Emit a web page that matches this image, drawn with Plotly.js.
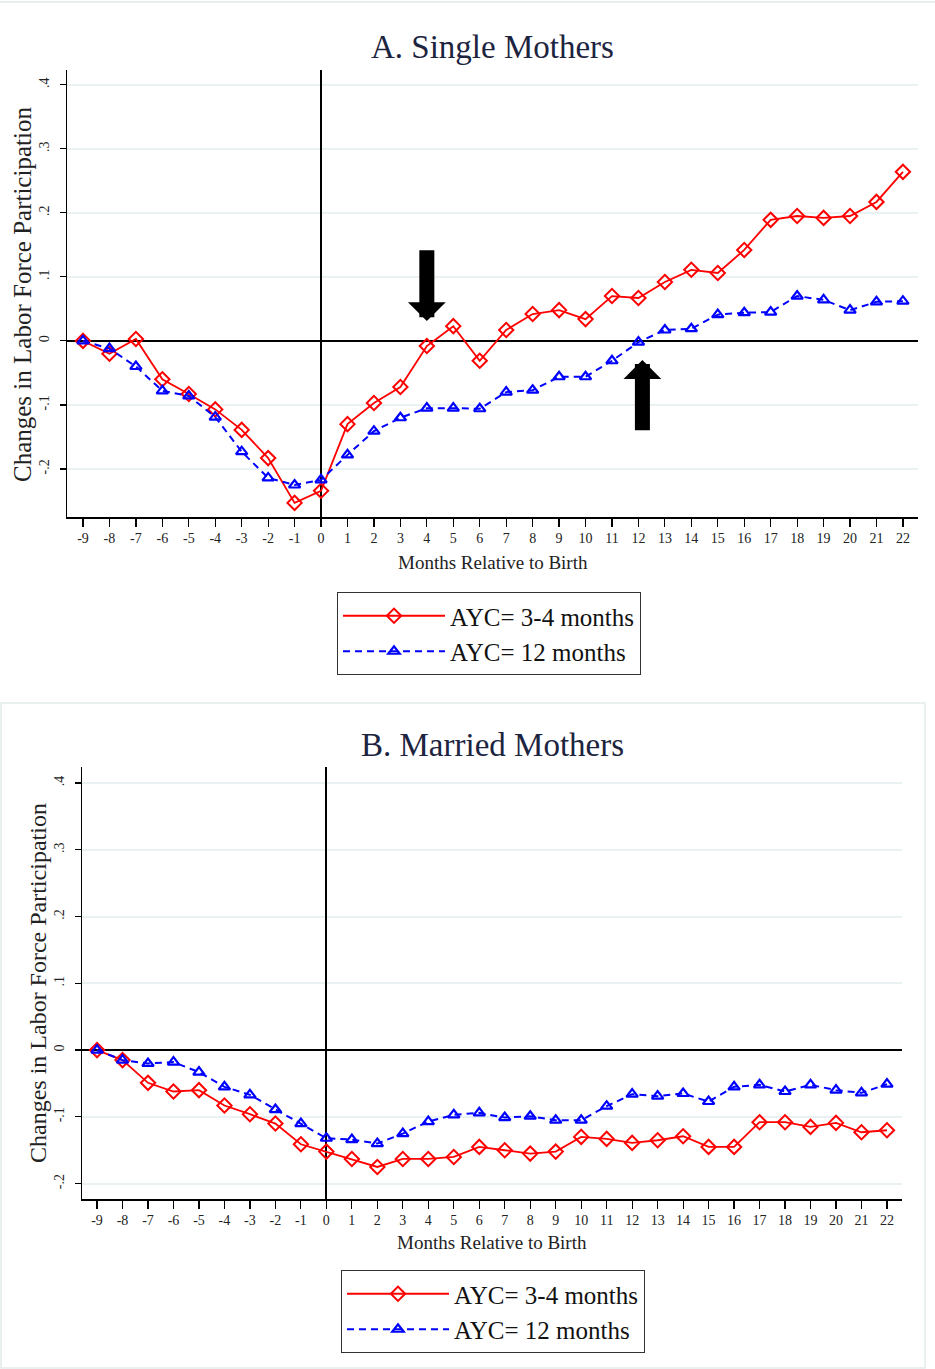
<!DOCTYPE html>
<html>
<head>
<meta charset="utf-8">
<script src="https://cdn.plot.ly/plotly-3.0.1.min.js"></script>
<style>html,body{margin:0;padding:0;background:#fff;}#chart{width:935px;height:1369px;}</style>
</head>
<body>
<div id="chart"></div>
<script>
var months = [-9,-8,-7,-6,-5,-4,-3,-2,-1,0,1,2,3,4,5,6,7,8,9,10,11,12,13,14,15,16,17,18,19,20,21,22];

var singleAYC34 = [0,-0.020,0.003,-0.060,-0.083,-0.107,-0.139,-0.183,-0.253,-0.234,-0.130,-0.097,-0.072,-0.008,0.023,-0.031,0.017,0.042,0.048,0.034,0.070,0.067,0.092,0.111,0.106,0.142,0.189,0.195,0.192,0.195,0.217,0.264];
var singleAYC12 = [0,-0.012,-0.040,-0.078,-0.086,-0.119,-0.173,-0.214,-0.225,-0.217,-0.178,-0.141,-0.120,-0.105,-0.105,-0.106,-0.080,-0.077,-0.056,-0.056,-0.031,-0.002,0.017,0.019,0.041,0.044,0.045,0.070,0.064,0.048,0.061,0.062];

var marriedAYC34 = [0,-0.015,-0.049,-0.062,-0.060,-0.083,-0.096,-0.110,-0.141,-0.152,-0.163,-0.175,-0.163,-0.163,-0.160,-0.145,-0.150,-0.155,-0.152,-0.130,-0.133,-0.139,-0.135,-0.129,-0.145,-0.145,-0.108,-0.108,-0.115,-0.109,-0.123,-0.120];
var marriedAYC12 = [0,-0.015,-0.020,-0.018,-0.033,-0.055,-0.067,-0.089,-0.110,-0.132,-0.134,-0.140,-0.125,-0.107,-0.097,-0.094,-0.101,-0.099,-0.105,-0.105,-0.084,-0.066,-0.069,-0.065,-0.077,-0.055,-0.052,-0.062,-0.052,-0.060,-0.064,-0.051];

var yTickVals = [-0.2,-0.1,0,0.1,0.2,0.3,0.4];
var yTickText = ['-.2','-.1','0','.1','.2','.3','.4'];
var seriesNames = ['AYC= 3-4 months','AYC= 12 months'];

var serif = 'Liberation Serif, Times New Roman, serif';
var W = 935, H = 1369;
function px(x){return x/W;}
function py(y){return 1-y/H;}

var redLine = {color:'#ff0000', width:1.8, dash:'solid'};
var blueLine = {color:'#0000ff', width:2, dash:'7px,5px'};
var redMarker = {symbol:'diamond-open', size:11, color:'#ff0000', line:{width:2, color:'#ff0000'}};
var blueMarker = {symbol:'triangle-up-open', size:10, color:'#0000ff', line:{width:2.2, color:'#0000ff'}};

var data = [
  {x:months, y:singleAYC34, name:seriesNames[0], type:'scatter', mode:'lines+markers', line:redLine, marker:redMarker, xaxis:'x', yaxis:'y', legend:'legend'},
  {x:months, y:singleAYC12, name:seriesNames[1], type:'scatter', mode:'lines+markers', line:blueLine, marker:blueMarker, xaxis:'x', yaxis:'y', legend:'legend'},
  {x:months, y:marriedAYC34, name:seriesNames[0], type:'scatter', mode:'lines+markers', line:redLine, marker:redMarker, xaxis:'x2', yaxis:'y2', legend:'legend2'},
  {x:months, y:marriedAYC12, name:seriesNames[1], type:'scatter', mode:'lines+markers', line:blueLine, marker:blueMarker, xaxis:'x2', yaxis:'y2', legend:'legend2'}
];

function xAxis(domain, range, anchor){
  return {domain:domain, range:range, anchor:anchor, tickmode:'array', tickvals:months, ticktext:months.map(String),
    showgrid:false, zeroline:true, zerolinecolor:'#000', zerolinewidth:2,
    showline:true, linecolor:'#000', linewidth:1.5, ticks:'outside', ticklen:8, tickwidth:1.2, tickcolor:'#000',
    tickfont:{family:serif, size:14, color:'#222'}, fixedrange:true};
}
function yAxis(domain, range, anchor){
  return {domain:domain, range:range, anchor:anchor, tickmode:'array', tickvals:yTickVals, ticktext:yTickText,
    tickangle:-90, showgrid:true, gridcolor:'#eaf1f3', gridwidth:2,
    zeroline:true, zerolinecolor:'#000', zerolinewidth:2,
    showline:true, linecolor:'#000', linewidth:1.5, ticks:'outside', ticklen:6, tickwidth:1.2, tickcolor:'#000',
    ticklabelstandoff:5,
    tickfont:{family:serif, size:14, color:'#222'}, fixedrange:true};
}

var legendBase = {xanchor:'left', yanchor:'top', bordercolor:'#333', borderwidth:1, bgcolor:'#fff',
  font:{family:serif, size:25, color:'#111'}, itemwidth:102, tracegroupgap:0};

var layout = {
  width:W, height:H, margin:{l:0,r:0,t:0,b:0}, paper_bgcolor:'#fff', plot_bgcolor:'#fff',
  showlegend:true,
  xaxis: xAxis([px(67), px(918)], [-9.605, 22.57], 'y'),
  yaxis: yAxis([py(517), py(70)], [-0.275, 0.423], 'x'),
  xaxis2: xAxis([px(82), px(902)], [-9.59, 22.59], 'y2'),
  yaxis2: yAxis([py(1199), py(767)], [-0.223, 0.424], 'x2'),
  legend: Object.assign({x:px(337), y:py(592)}, legendBase),
  legend2: Object.assign({x:px(341), y:py(1270)}, legendBase),
  shapes: [
    {type:'line', xref:'paper', yref:'paper', x0:0, x1:1, y0:py(2), y1:py(2), line:{color:'#e6eeee', width:2}},
    {type:'rect', xref:'paper', yref:'paper', x0:px(1), x1:px(925), y0:py(1368), y1:py(703), line:{color:'#e3ebeb', width:1.5}, fillcolor:'rgba(0,0,0,0)', layer:'below'}
  ],
  annotations: [
    {text:'A. Single Mothers', xref:'paper', yref:'paper', x:px(493), y:py(47), xanchor:'center', yanchor:'middle', showarrow:false, font:{family:serif, size:33, color:'#1c2440'}},
    {text:'B. Married Mothers', xref:'paper', yref:'paper', x:px(492), y:py(745), xanchor:'center', yanchor:'middle', showarrow:false, font:{family:serif, size:33, color:'#1c2440'}},
    {text:'Months Relative to Birth', xref:'paper', yref:'paper', x:px(493), y:py(562), xanchor:'center', yanchor:'middle', showarrow:false, font:{family:serif, size:19, color:'#222'}},
    {text:'Months Relative to Birth', xref:'paper', yref:'paper', x:px(492), y:py(1242), xanchor:'center', yanchor:'middle', showarrow:false, font:{family:serif, size:19, color:'#222'}},
    {text:'Changes in Labor Force Participation', xref:'paper', yref:'paper', x:px(22), y:py(295), xanchor:'center', yanchor:'middle', textangle:-90, showarrow:false, font:{family:serif, size:25, color:'#222'}},
    {text:'Changes in Labor Force Participation', xref:'paper', yref:'paper', x:px(38), y:py(983), xanchor:'center', yanchor:'middle', textangle:-90, showarrow:false, font:{family:serif, size:24, color:'#222'}},
    {text:'', xref:'x', yref:'y', axref:'x', ayref:'y', x:4, y:0.031, ax:4, ay:0.144, showarrow:true, arrowhead:1, arrowwidth:15, arrowsize:0.42, arrowcolor:'#000', standoff:0, startstandoff:0},
    {text:'', xref:'x', yref:'y', axref:'x', ayref:'y', x:12.15, y:-0.030, ax:12.15, ay:-0.142, showarrow:true, arrowhead:1, arrowwidth:15, arrowsize:0.42, arrowcolor:'#000', standoff:0, startstandoff:0}
  ]
};

Plotly.newPlot('chart', data, layout, {staticPlot:true, displayModeBar:false});
</script>
</body>
</html>
